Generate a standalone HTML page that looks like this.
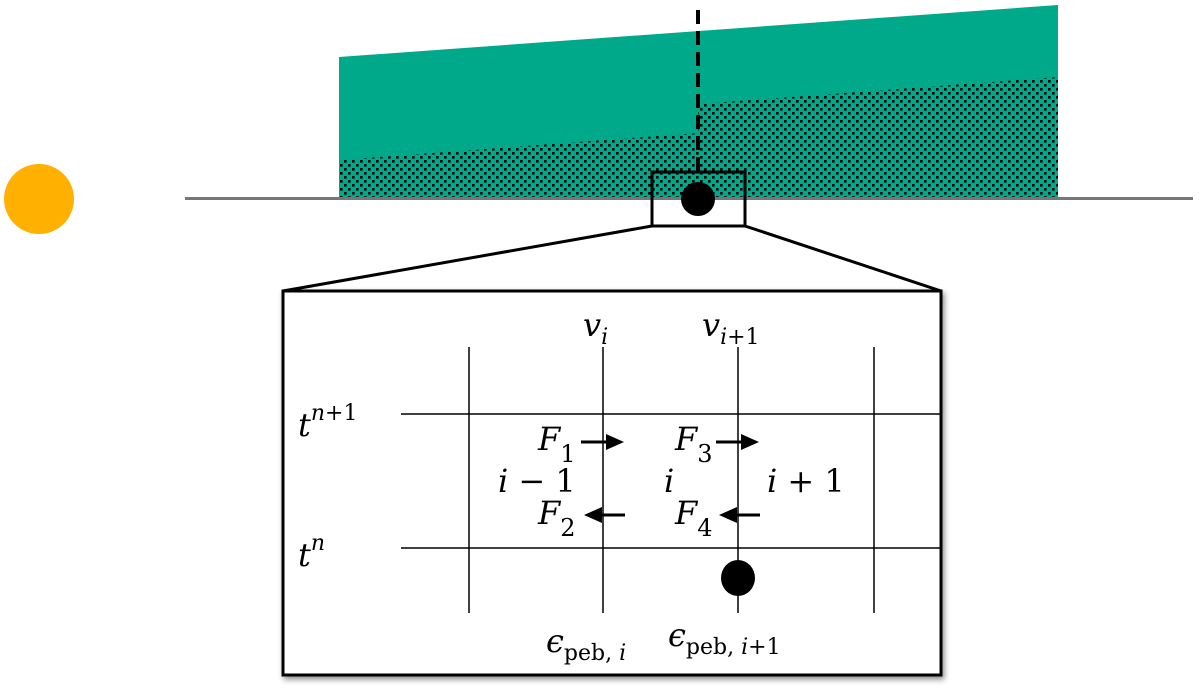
<!DOCTYPE html>
<html><head><meta charset="utf-8"><style>html,body{margin:0;padding:0;background:#fff;width:1200px;height:700px;overflow:hidden}</style></head>
<body>
<svg width="1200" height="700" viewBox="0 0 1200 700" xmlns="http://www.w3.org/2000/svg">
<defs>
<pattern id="dots" width="8" height="8" patternUnits="userSpaceOnUse">
<rect width="8" height="8" fill="#00a98a"/>
<rect x="0" y="0" width="2.6" height="2.6" fill="#000"/>
<rect x="4" y="4" width="2.6" height="2.6" fill="#000"/>
</pattern>
<filter id="sh" x="-5%" y="-5%" width="110%" height="110%"><feDropShadow dx="2" dy="3" stdDeviation="3" flood-color="#000" flood-opacity="0.45"/></filter>
</defs>
<circle cx="39" cy="199" r="35" fill="#ffb000"/>
<polygon points="339,57 1058,5 1058,198 339,198" fill="#00a98a"/>
<polygon points="339,160 698,133 698,104 1058,77 1058,198 339,198" fill="url(#dots)"/>
<line x1="185" y1="198.5" x2="1193" y2="198.5" stroke="#777" stroke-width="3"/>
<line x1="698" y1="10" x2="698" y2="172" stroke="#000" stroke-width="4" stroke-dasharray="14,7"/>
<rect x="652" y="172" width="93" height="54" fill="none" stroke="#000" stroke-width="3"/>
<circle cx="698" cy="199" r="17" fill="#000"/>
<line x1="652" y1="226" x2="283" y2="291" stroke="#000" stroke-width="3"/>
<line x1="745" y1="226" x2="941" y2="291" stroke="#000" stroke-width="3"/>
<rect x="283" y="291" width="658" height="384" fill="#fff" stroke="#000" stroke-width="3" filter="url(#sh)"/>
<g stroke="#000" stroke-width="1.5">
<line x1="469" y1="347" x2="469" y2="613"/>
<line x1="603" y1="347" x2="603" y2="613"/>
<line x1="738" y1="347" x2="738" y2="613"/>
<line x1="874" y1="347" x2="874" y2="613"/>
<line x1="401" y1="414" x2="940" y2="414"/>
<line x1="401" y1="548" x2="940" y2="548"/>
</g>
<ellipse cx="738" cy="578" rx="17" ry="18" fill="#000"/>
<g stroke="#000" stroke-width="3">
<line x1="581" y1="442" x2="608" y2="442"/>
<line x1="716" y1="442" x2="743" y2="442"/>
<line x1="625" y1="515" x2="598" y2="515"/>
<line x1="760" y1="515" x2="733" y2="515"/>
</g>
<polygon points="606,434 624,442 606,450" fill="#000"/>
<polygon points="741,434 759,442 741,450" fill="#000"/>
<polygon points="602,507 584,515 602,523" fill="#000"/>
<polygon points="737,507 719,515 737,523" fill="#000"/>
<g font-family="'DejaVu Serif','Liberation Serif',serif" font-style="italic" font-size="32" fill="#000">
<text x="583" y="336">v<tspan font-size="22" dy="8">i</tspan></text>
<text x="702" y="336">v<tspan font-size="22" dy="8">i<tspan font-style="normal">+1</tspan></tspan></text>
<text x="298" y="436">t<tspan font-size="22" dy="-16">n<tspan font-style="normal">+1</tspan></tspan></text>
<text x="298" y="566">t<tspan font-size="22" dy="-16">n</tspan></text>
<text x="538" y="450">F<tspan font-size="24" dy="12" font-style="normal">1</tspan></text>
<text x="675" y="450">F<tspan font-size="24" dy="12" font-style="normal">3</tspan></text>
<text x="538" y="524">F<tspan font-size="24" dy="12" font-style="normal">2</tspan></text>
<text x="675" y="524">F<tspan font-size="24" dy="12" font-style="normal">4</tspan></text>
<text x="498" y="492">i<tspan font-style="normal"> − 1</tspan></text>
<text x="664" y="492">i</text>
<text x="767" y="492">i<tspan font-style="normal"> + 1</tspan></text>
<text x="546" y="652">ϵ<tspan font-size="22" dy="8"><tspan font-style="normal">peb, </tspan>i</tspan></text>
<text x="668" y="646">ϵ<tspan font-size="22" dy="8"><tspan font-style="normal">peb, </tspan>i<tspan font-style="normal">+1</tspan></tspan></text>
</g>
</svg>
</body></html>
